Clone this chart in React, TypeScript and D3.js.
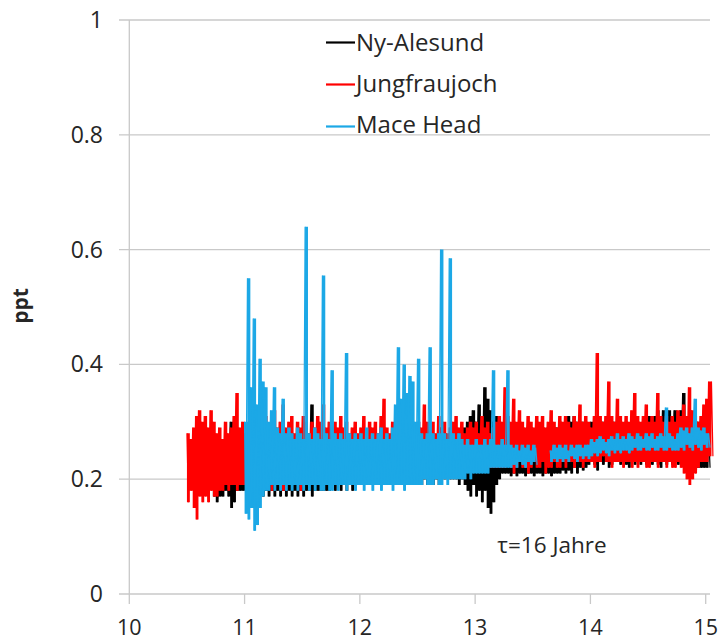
import React from "react";
import * as d3 from "d3";

// ---- data (ppt), sampled every 0.025 on the x axis; each sample has an upper and lower reading ----
const step = 0.025;

const seriesNames = ["Ny-Alesund", "Jungfraujoch", "Mace Head"];
const seriesColors = ["#000000", "#ff0000", "#1ca8e6"];

const nyStart = 10.725;
const nyHigh = [
  0.19, 0.2, 0.19, 0.21, 0.2, 0.22, 0.3, 0.28, 0.24, 0.23,
  0.25, 0.24, 0.25, 0.26, 0.25, 0.27, 0.26, 0.25, 0.26, 0.27,
  0.26, 0.27, 0.26, 0.28, 0.26, 0.27, 0.26, 0.27, 0.26, 0.27,
  0.26, 0.27, 0.26, 0.27, 0.33, 0.27, 0.26, 0.27, 0.26, 0.27,
  0.26, 0.27, 0.26, 0.27, 0.26, 0.27, 0.26, 0.27, 0.26, 0.27,
  0.26, 0.27, 0.26, 0.27, 0.26, 0.27, 0.26, 0.27, 0.26, 0.27,
  0.26, 0.27, 0.26, 0.27, 0.26, 0.27, 0.26, 0.27, 0.26, 0.27,
  0.26, 0.27, 0.26, 0.27, 0.26, 0.27, 0.26, 0.27, 0.26, 0.27,
  0.26, 0.27, 0.26, 0.27, 0.28, 0.27, 0.28, 0.29, 0.3, 0.31,
  0.32, 0.3, 0.33, 0.31, 0.36, 0.34, 0.32, 0.3, 0.31, 0.29,
  0.28, 0.27, 0.28, 0.27, 0.28, 0.29, 0.28, 0.29, 0.28, 0.29,
  0.29, 0.28, 0.29, 0.28, 0.29, 0.28, 0.29, 0.28, 0.29, 0.29,
  0.3, 0.29, 0.3, 0.31, 0.3, 0.31, 0.3, 0.29, 0.3, 0.29,
  0.29, 0.3, 0.29, 0.3, 0.29, 0.3, 0.29, 0.3, 0.29, 0.3,
  0.29, 0.3, 0.29, 0.3, 0.29, 0.3, 0.29, 0.3, 0.29, 0.3,
  0.3, 0.31, 0.3, 0.31, 0.32, 0.31, 0.32, 0.31, 0.32, 0.31,
  0.32, 0.31, 0.32, 0.35, 0.31, 0.3, 0.31, 0.3, 0.3, 0.29,
  0.3, 0.29,
];
const nyLow = [
  0.17, 0.16, 0.17, 0.17, 0.18, 0.17, 0.15, 0.16, 0.18, 0.18,
  0.18, 0.18, 0.18, 0.18, 0.18, 0.17, 0.18, 0.17, 0.18, 0.17,
  0.18, 0.17, 0.18, 0.17, 0.18, 0.17, 0.18, 0.17, 0.18, 0.17,
  0.18, 0.17, 0.18, 0.18, 0.17, 0.18, 0.18, 0.18, 0.18, 0.18,
  0.18, 0.19, 0.18, 0.19, 0.18, 0.19, 0.18, 0.19, 0.18, 0.19,
  0.19, 0.19, 0.19, 0.19, 0.19, 0.19, 0.19, 0.19, 0.19, 0.19,
  0.19, 0.19, 0.19, 0.19, 0.19, 0.19, 0.19, 0.19, 0.19, 0.19,
  0.19, 0.2, 0.19, 0.2, 0.19, 0.2, 0.19, 0.2, 0.19, 0.2,
  0.2, 0.2, 0.2, 0.2, 0.2, 0.19, 0.2, 0.19, 0.18, 0.17,
  0.19, 0.17, 0.18, 0.16, 0.18, 0.15, 0.14, 0.16, 0.19, 0.2,
  0.21, 0.21, 0.21, 0.205, 0.21, 0.205, 0.21, 0.21, 0.205, 0.21,
  0.21, 0.205, 0.21, 0.21, 0.205, 0.21, 0.21, 0.205, 0.21, 0.21,
  0.21, 0.215, 0.21, 0.215, 0.21, 0.22, 0.21, 0.22, 0.215, 0.22,
  0.225, 0.23, 0.225, 0.215, 0.23, 0.225, 0.23, 0.22, 0.225, 0.23,
  0.23, 0.225, 0.23, 0.225, 0.22, 0.23, 0.225, 0.23, 0.225, 0.23,
  0.225, 0.23, 0.225, 0.23, 0.225, 0.22, 0.23, 0.225, 0.23, 0.225,
  0.23, 0.225, 0.23, 0.225, 0.23, 0.225, 0.22, 0.215, 0.22, 0.22,
  0.22, 0.22,
];

const jfStart = 10.5;
const jfHigh = [
  0.28, 0.27, 0.29, 0.31, 0.32, 0.3, 0.31, 0.29, 0.32, 0.3,
  0.28, 0.29, 0.27, 0.3, 0.28, 0.29, 0.31, 0.35, 0.29, 0.3,
  0.28, 0.26, 0.27, 0.3, 0.29, 0.3, 0.28, 0.31, 0.29, 0.3,
  0.32, 0.29, 0.3, 0.33, 0.29, 0.3, 0.31, 0.28, 0.3, 0.29,
  0.31, 0.3, 0.28, 0.3, 0.29, 0.31, 0.3, 0.33, 0.29, 0.3,
  0.28, 0.3, 0.29, 0.31, 0.29, 0.3, 0.28, 0.29, 0.3, 0.28,
  0.29, 0.31, 0.28, 0.3, 0.29, 0.3, 0.28, 0.31, 0.34, 0.29,
  0.28, 0.3, 0.29, 0.31, 0.28, 0.29, 0.3, 0.28, 0.29, 0.28,
  0.3, 0.29, 0.33, 0.3, 0.29, 0.3, 0.28, 0.31, 0.29, 0.3,
  0.28, 0.29, 0.3, 0.31, 0.29, 0.3, 0.28, 0.29, 0.3, 0.29,
  0.3, 0.28, 0.31, 0.29, 0.3, 0.28, 0.29, 0.3, 0.31, 0.3,
  0.36, 0.31, 0.3, 0.34, 0.3, 0.32, 0.3, 0.29, 0.31, 0.3,
  0.29, 0.31, 0.3, 0.31, 0.29, 0.3, 0.32, 0.3, 0.29, 0.31,
  0.3, 0.31, 0.3, 0.29, 0.31, 0.3, 0.33, 0.3, 0.31, 0.3,
  0.29, 0.31, 0.42, 0.31, 0.3, 0.31, 0.37, 0.31, 0.3, 0.34,
  0.31, 0.3, 0.31, 0.3, 0.32, 0.35, 0.31, 0.3, 0.31, 0.33,
  0.3, 0.31, 0.3, 0.35, 0.31, 0.3, 0.31, 0.3, 0.31, 0.3,
  0.32, 0.31, 0.33, 0.31, 0.36, 0.32, 0.31, 0.3, 0.31, 0.33,
  0.34, 0.37,
];
const jfLow = [
  0.16, 0.18, 0.15, 0.13, 0.17, 0.16, 0.17, 0.16, 0.18, 0.17,
  0.17, 0.18, 0.18, 0.19, 0.18, 0.19, 0.19, 0.18, 0.19, 0.19,
  0.19, 0.2, 0.19, 0.19, 0.19, 0.19, 0.19, 0.19, 0.19, 0.18,
  0.19, 0.19, 0.19, 0.18, 0.19, 0.19, 0.19, 0.19, 0.19, 0.18,
  0.19, 0.19, 0.19, 0.19, 0.2, 0.2, 0.2, 0.2, 0.2, 0.2,
  0.2, 0.2, 0.2, 0.2, 0.2, 0.2, 0.2, 0.2, 0.2, 0.2,
  0.2, 0.2, 0.2, 0.2, 0.2, 0.2, 0.2, 0.2, 0.21, 0.21,
  0.21, 0.21, 0.21, 0.21, 0.21, 0.21, 0.21, 0.21, 0.21, 0.21,
  0.21, 0.21, 0.21, 0.21, 0.21, 0.21, 0.21, 0.21, 0.21, 0.21,
  0.21, 0.21, 0.21, 0.21, 0.21, 0.22, 0.22, 0.22, 0.22, 0.22,
  0.22, 0.22, 0.22, 0.22, 0.22, 0.22, 0.22, 0.22, 0.22, 0.22,
  0.22, 0.23, 0.22, 0.21, 0.22, 0.23, 0.22, 0.22, 0.21, 0.22,
  0.23, 0.22, 0.22, 0.23, 0.21, 0.22, 0.22, 0.23, 0.22, 0.22,
  0.23, 0.22, 0.23, 0.23, 0.22, 0.23, 0.23, 0.22, 0.23, 0.23,
  0.23, 0.22, 0.23, 0.23, 0.24, 0.23, 0.23, 0.22, 0.23, 0.23,
  0.23, 0.22, 0.23, 0.23, 0.22, 0.23, 0.22, 0.23, 0.23, 0.22,
  0.22, 0.23, 0.23, 0.22, 0.23, 0.23, 0.22, 0.23, 0.22, 0.22,
  0.23, 0.22, 0.21, 0.2, 0.19, 0.2, 0.21, 0.22, 0.23, 0.23,
  0.23, 0.24,
];

const mhStart = 11.0;
const mhHigh: (number | null)[] = [
  0.3, 0.55, 0.36, 0.48, 0.33, 0.41, 0.37, 0.36, 0.3, 0.32,
  0.36, 0.29, 0.28, 0.34, 0.28, 0.29, 0.28, 0.27, 0.29, 0.28,
  0.27, 0.64, 0.28, 0.27, 0.29, 0.28, 0.27, 0.555, 0.28, 0.27,
  0.39, 0.28, 0.27, 0.28, 0.27, 0.42, 0.28, 0.27, 0.28, 0.27,
  0.28, 0.27, 0.29, 0.27, 0.28, 0.27, 0.28, 0.29, 0.27, 0.28,
  0.27, 0.29, 0.33, 0.43, 0.34, 0.4, 0.35, 0.38, 0.37, 0.3,
  0.41, 0.28, 0.27, 0.28, 0.43, 0.28, 0.27, 0.28, 0.6, 0.28,
  0.27, 0.585, 0.28, 0.27, 0.28, 0.27, 0.26, 0.27, 0.26, 0.26,
  0.27, 0.26, 0.26, 0.27, 0.26, 0.27, 0.39, 0.26, 0.26, 0.27,
  0.26, 0.39, 0.26, 0.255, 0.26, 0.25, 0.26, 0.255, 0.26, 0.25,
  0.26, 0.255, null, null, null, null, 0.25, 0.26, 0.255, 0.26,
  0.255, 0.26, 0.25, 0.26, 0.255, 0.26, 0.26, 0.255, 0.26, 0.26,
  0.27, 0.265, 0.27, 0.275, 0.27, 0.265, 0.27, 0.275, 0.27, 0.28,
  0.27, 0.275, 0.27, 0.28, 0.275, 0.27, 0.28, 0.275, 0.27, 0.28,
  0.275, 0.28, 0.27, 0.275, 0.28, 0.275, 0.325, 0.28, 0.275, 0.27,
  0.28, 0.29, 0.285, 0.29, 0.28, 0.29, 0.34, 0.29, 0.285, 0.29,
  0.28,
];
const mhLow: (number | null)[] = [
  0.14, 0.13, 0.15, 0.11, 0.12, 0.15, 0.17, 0.18, 0.18, 0.19,
  0.18, 0.19, 0.18, 0.19, 0.18, 0.19, 0.18, 0.19, 0.18, 0.19,
  0.18, 0.19, 0.18, 0.19, 0.18, 0.19, 0.18, 0.18, 0.19, 0.18,
  0.18, 0.19, 0.18, 0.19, 0.19, 0.18, 0.19, 0.19, 0.18, 0.19,
  0.19, 0.18, 0.19, 0.19, 0.18, 0.19, 0.19, 0.18, 0.19, 0.19,
  0.19, 0.18, 0.19, 0.19, 0.19, 0.18, 0.19, 0.19, 0.19, 0.19,
  0.19, 0.19, 0.2, 0.19, 0.19, 0.19, 0.2, 0.19, 0.19, 0.2,
  0.19, 0.2, 0.2, 0.2, 0.2, 0.2, 0.2, 0.21, 0.2, 0.21,
  0.21, 0.21, 0.21, 0.21, 0.21, 0.22, 0.22, 0.22, 0.22, 0.22,
  0.22, 0.22, 0.22, 0.225, 0.22, 0.23, 0.225, 0.22, 0.23, 0.225,
  0.23, 0.225, null, null, null, null, 0.23, 0.235, 0.23, 0.235,
  0.23, 0.235, 0.23, 0.24, 0.235, 0.23, 0.24, 0.235, 0.24, 0.235,
  0.24, 0.245, 0.24, 0.245, 0.25, 0.245, 0.24, 0.25, 0.245, 0.25,
  0.245, 0.25, 0.25, 0.245, 0.25, 0.255, 0.25, 0.25, 0.255, 0.25,
  0.25, 0.255, 0.25, 0.25, 0.255, 0.25, 0.25, 0.255, 0.25, 0.25,
  0.25, 0.255, 0.25, 0.26, 0.255, 0.25, 0.26, 0.255, 0.25, 0.26,
  0.255,
];

const xTicks = [10, 11, 12, 13, 14, 15];
const yTicks = [0, 0.2, 0.4, 0.6, 0.8, 1];
const yLabel = "ppt";
const annotation = "τ=16 Jahre";

// ---- layout ----
const W = 721;
const H = 641;
const x = d3.scaleLinear().domain([10, 15]).range([129.3, 705.7]);
const y = d3.scaleLinear().domain([0, 1]).range([594, 20]);

type S = { t: number; hi: number | null; lo: number | null };

function samples(start: number, hi: (number | null)[], lo: (number | null)[]): S[] {
  const n = Math.min(hi.length, lo.length);
  const out: S[] = [];
  for (let i = 0; i < n; i++) out.push({ t: start + i * step, hi: hi[i], lo: lo[i] });
  // closing sample so that the final reading gets its own width
  out.push({ t: start + n * step, hi: hi[n - 1], lo: lo[n - 1] });
  return out;
}

const band = d3
  .area<S>()
  .defined((d) => d.hi != null && d.lo != null)
  .curve(d3.curveStepAfter)
  .x((d) => x(d.t))
  .y0((d) => y(d.lo as number))
  .y1((d) => y(d.hi as number));

// thin zigzag between the readings for texture
const zig = (s: S[]) => {
  const pts: ({ t: number; v: number } | null)[] = [];
  s.forEach((d) => {
    if (d.hi == null || d.lo == null) {
      pts.push(null);
      return;
    }
    pts.push({ t: d.t, v: d.hi });
    pts.push({ t: d.t + step / 2, v: d.lo });
  });
  return d3
    .line<{ t: number; v: number } | null>()
    .defined((d) => d !== null)
    .x((d) => x((d as any).t))
    .y((d) => y((d as any).v))(pts);
};

const seriesData = [
  samples(nyStart, nyHigh, nyLow),
  samples(jfStart, jfHigh, jfLow),
  samples(mhStart, mhHigh, mhLow),
];

const font = "'Open Sans', 'DejaVu Sans', sans-serif";
const textColor = "#262626";

export default function App() {
  const gridLeft = 119;
  const gridRight = 710;
  return (
    <svg
      width={W}
      height={H}
      style={{ position: "absolute", left: 0, top: 0, background: "#fff" }}
    >
      <rect x={0} y={0} width={W} height={H} fill="#fff" />
      {/* gridlines */}
      {yTicks.map((v) => (
        <line
          key={"g" + v}
          x1={gridLeft}
          x2={gridRight}
          y1={y(v)}
          y2={y(v)}
          stroke="#c9c9c9"
          strokeWidth={1.3}
        />
      ))}
      {/* y axis line */}
      <line x1={x(10)} x2={x(10)} y1={y(1)} y2={y(0)} stroke="#c9c9c9" strokeWidth={1.3} />
      {/* x ticks */}
      {xTicks.map((t) => (
        <line key={"xt" + t} x1={x(t)} x2={x(t)} y1={y(0)} y2={y(0) + 10} stroke="#c9c9c9" strokeWidth={1.3} />
      ))}
      {/* series */}
      {seriesData.map((s, i) => (
        <g key={seriesNames[i]}>
          <path d={band(s) || ""} fill={seriesColors[i]} stroke="none" />
          <path d={zig(s) || ""} fill="none" stroke={seriesColors[i]} strokeWidth={1.2} />
        </g>
      ))}
      {/* y tick labels */}
      {yTicks.map((v) => (
        <text
          key={"yl" + v}
          x={103}
          y={y(v) + 8}
          textAnchor="end"
          fontFamily={font}
          fontSize={23}
          fill={textColor}
        >
          {String(v)}
        </text>
      ))}
      {/* x tick labels */}
      {xTicks.map((t) => (
        <text
          key={"xl" + t}
          x={x(t)}
          y={635}
          textAnchor="middle"
          fontFamily={font}
          fontSize={21.5}
          fill={textColor}
        >
          {String(t)}
        </text>
      ))}
      {/* y axis title */}
      <text
        transform={`translate(28, 306) rotate(-90)`}
        textAnchor="middle"
        fontFamily={font}
        fontSize={21}
        fontWeight="bold"
        fill={textColor}
      >
        {yLabel}
      </text>
      {/* legend */}
      {seriesNames.map((name, i) => (
        <g key={"lg" + name}>
          <line
            x1={326}
            x2={355}
            y1={42.5 + i * 42}
            y2={42.5 + i * 42}
            stroke={seriesColors[i]}
            strokeWidth={2.2}
          />
          <text x={356} y={50.7 + i * 41.3} fontFamily={font} fontSize={24} fill={textColor}>
            {name}
          </text>
        </g>
      ))}
      {/* annotation */}
      <text x={552} y={553} textAnchor="middle" fontFamily={font} fontSize={22.5} fill={textColor}>
        {annotation}
      </text>
    </svg>
  );
}
